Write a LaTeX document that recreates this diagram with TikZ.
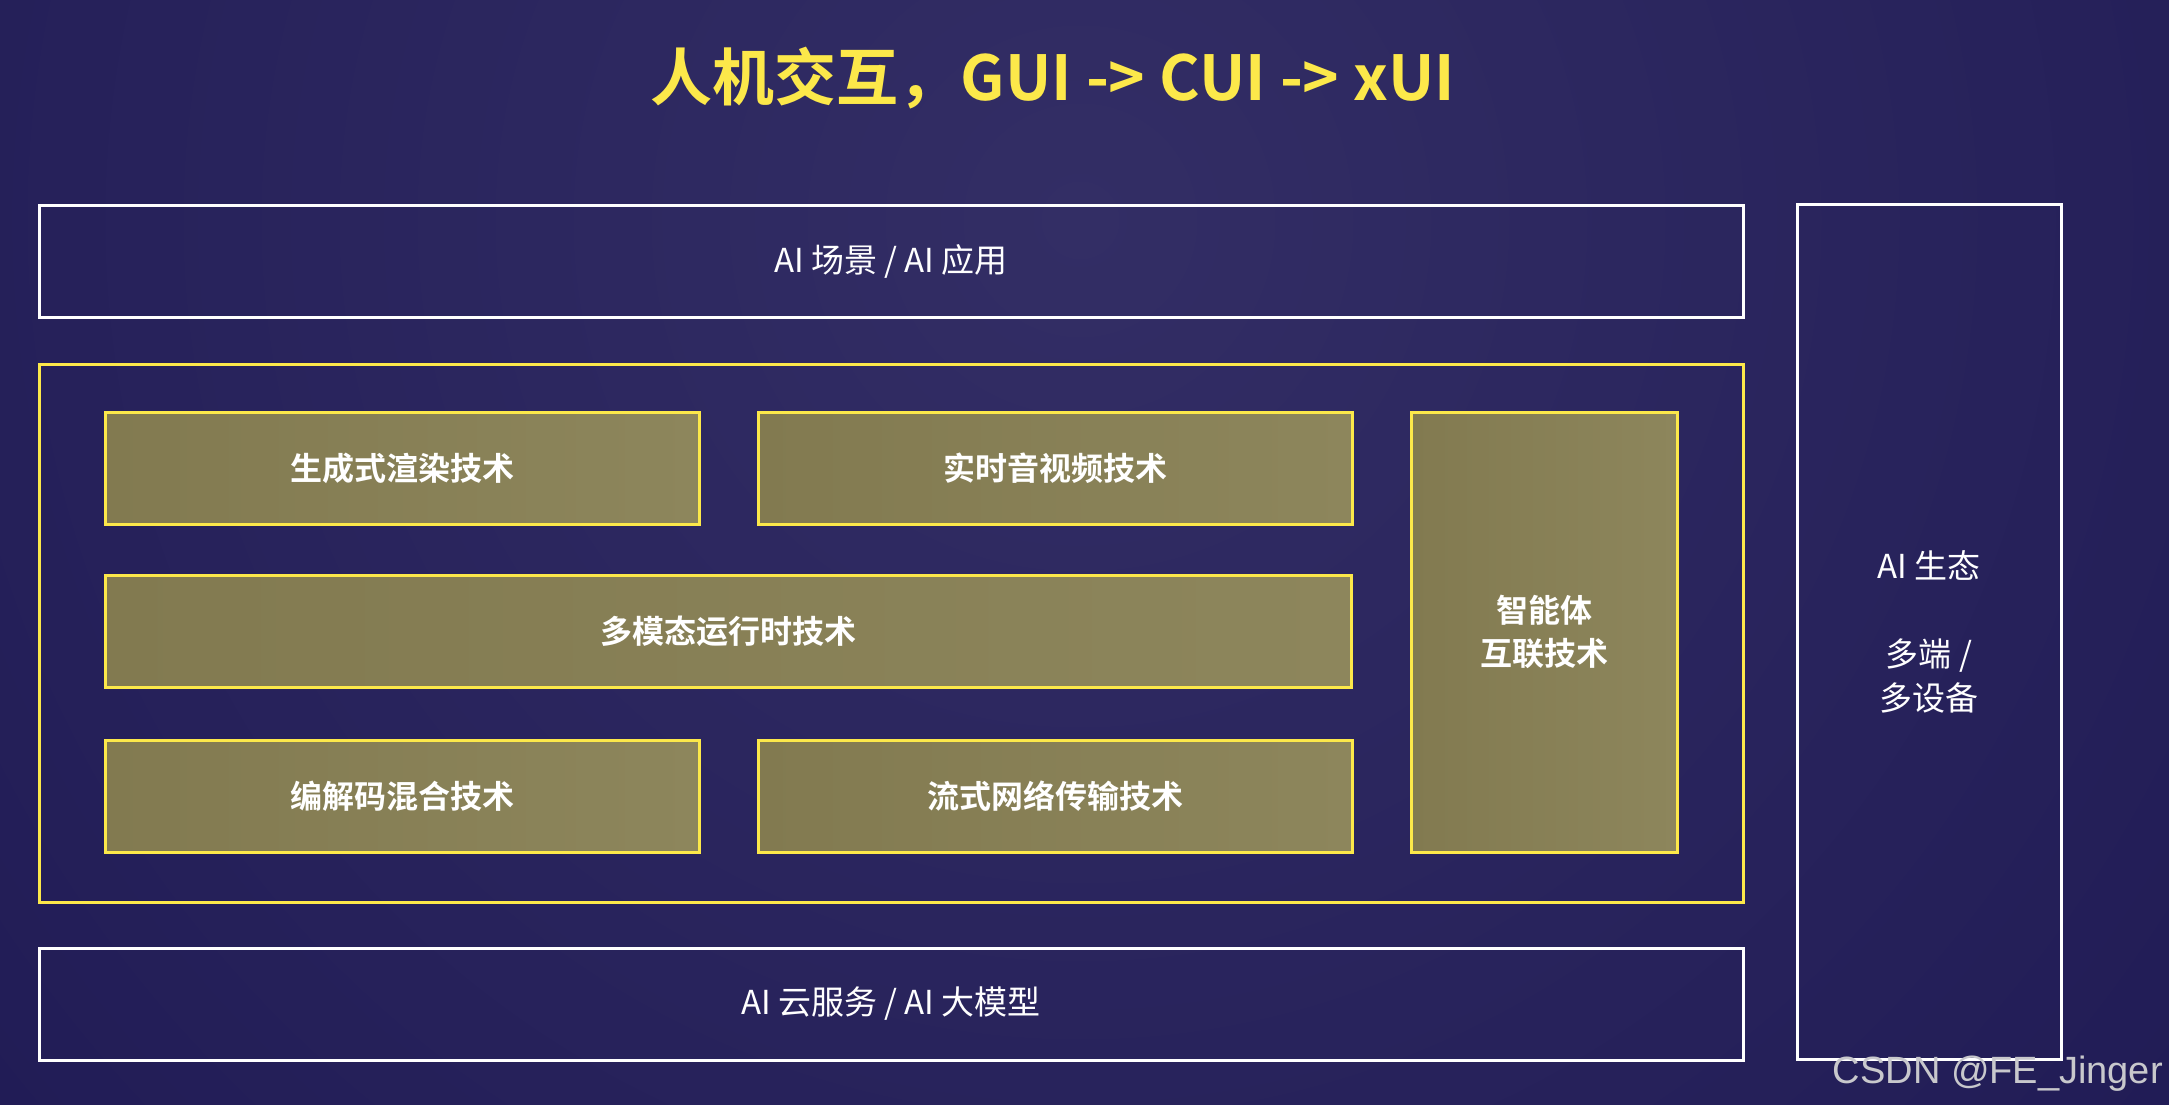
\documentclass[tikz,border=0pt]{standalone}
\usepackage{fontspec}
\setmainfont{Noto Sans CJK SC}[BoldFont={Noto Sans CJK SC Bold}]
\newfontfamily\wmfont{Liberation Sans}
\definecolor{bgdark}{HTML}{1A1550}
\definecolor{bglight}{HTML}{332E65}
\definecolor{ylw}{HTML}{FCE84A}
\definecolor{olivea}{HTML}{827A50}
\definecolor{oliveb}{HTML}{8D865C}
\definecolor{wmgray}{HTML}{C8C8CC}
\tikzset{
  wbox/.style={draw=white, line width=3pt, text=white, align=center,
    font=\fontsize{33}{44}\selectfont, inner sep=0pt},
  ybox/.style={draw=ylw, line width=3pt, left color=olivea, right color=oliveb,
    text=white, align=center, font=\bfseries\fontsize{32}{43}\selectfont, inner sep=0pt},
  frame/.style={draw=ylw, line width=3pt, inner sep=0pt},
}
\begin{document}
\begin{tikzpicture}[x=1pt,y=-1pt]
\useasboundingbox (0,0) rectangle (2169,1105);
\fill[bgdark] (0,0) rectangle (2169,1105);
\begin{scope}
\clip (0,0) rectangle (2169,1105);
\shade[inner color=bglight, outer color=bgdark] (1080,220) circle (1950pt);
\end{scope}

\node[text=ylw, font=\bfseries\fontsize{62}{70}\selectfont] (title) at (1053,78) {人机交互，GUI -> CUI -> xUI};

\node[wbox, minimum width=1704pt, minimum height=112pt] (scene) at (891,261) {AI 场景 / AI 应用};
\node[frame, minimum width=1704pt, minimum height=538pt] (core) at (891,633) {};
\node[wbox, minimum width=1704pt, minimum height=112pt] (cloud) at (891,1004) {AI 云服务 / AI 大模型};
\node[wbox, minimum width=264pt, minimum height=855pt] (eco) at (1929,632) {AI 生态\\ \\多端 /\\多设备};

\node[ybox, minimum width=594pt, minimum height=112pt] (gen) at (402,468) {生成式渲染技术};
\node[ybox, minimum width=594pt, minimum height=112pt] (rt) at (1055,468) {实时音视频技术};
\node[ybox, minimum width=1246pt, minimum height=112pt] (mm) at (728,631.5) {多模态运行时技术};
\node[ybox, minimum width=594pt, minimum height=112pt] (codec) at (402,796) {编解码混合技术};
\node[ybox, minimum width=594pt, minimum height=112pt] (stream) at (1055,796) {流式网络传输技术};
\node[ybox, minimum width=266pt, minimum height=440pt] (agent) at (1544,632) {智能体\\互联技术};

\node[anchor=base east, text=wmgray, font=\wmfont\fontsize{38}{40}\selectfont, inner sep=0pt] (wm) at (2163,1083) {CSDN @FE\_Jinger};
\end{tikzpicture}
\end{document}
